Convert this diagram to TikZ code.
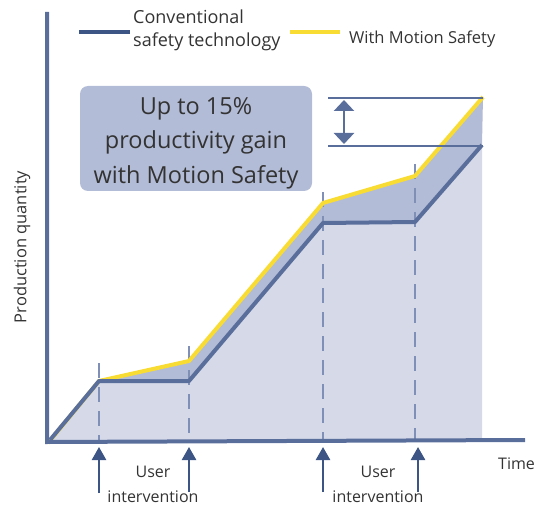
\documentclass[tikz,border=0pt]{standalone}
\usepackage{fontspec}
\setmainfont{Open Sans}
\usetikzlibrary{arrows.meta}
\definecolor{axisblue}{HTML}{5A6E9C}
\definecolor{darkblue}{HTML}{3D5584}
\definecolor{lightfill}{HTML}{D5D9E8}
\definecolor{darkfill}{HTML}{B3BCD6}
\definecolor{myyellow}{HTML}{F8DC34}
\definecolor{dashblue}{HTML}{7F8FB5}
\definecolor{txt}{HTML}{333333}
\tikzset{
  curve/.style={line width=4pt, line join=round},
  axisline/.style={line width=4pt, axisblue},
  guide/.style={line width=1.5pt, dashblue, dash pattern=on 15pt off 9pt},
  userarrow/.style={line width=2.5pt, darkblue, -{Triangle[length=13pt,width=14pt]}},
  lbl/.style={text=txt, font=\fontsize{16}{25}\selectfont, inner sep=0pt},
  leglbl/.style={text=txt, font=\fontsize{18}{23}\selectfont, inner sep=0pt},
}
\begin{document}
\begin{tikzpicture}[x=1pt,y=-1pt]
\useasboundingbox (0,0) rectangle (546,505);
% coordinates
\coordinate (o) at (48,440);
\coordinate (b1) at (99,381);
\coordinate (b2) at (189,381);
\coordinate (b3) at (323,223);
\coordinate (b4) at (415,222);
\coordinate (b5) at (482,145);
\coordinate (y2) at (189,361);
\coordinate (y3) at (323,203);
\coordinate (y4) at (415,176);
\coordinate (y5) at (483,97);
\coordinate (f5) at (482,440);
% fills
\fill[lightfill] (o) -- (b1) -- (b2) -- (b3) -- (b4) -- (b5) -- (f5) -- cycle;
\fill[darkfill] (b1) -- (y2) -- (y3) -- (y4) -- (y5) -- (b5) -- (b4) -- (b3) -- (b2) -- cycle;
% guides
\coordinate (g1t) at (99,363); \coordinate (g1b) at (99,440);
\coordinate (g2t) at (189,346); \coordinate (g2b) at (189,440);
\coordinate (g3t) at (323,192); \coordinate (g3b) at (323,440);
\coordinate (g4t) at (415,164); \coordinate (g4b) at (415,440);
\draw[guide] (g1t) -- (g1b);
\draw[guide] (g2t) -- (g2b);
\draw[guide] (g3t) -- (g3b);
\draw[guide] (g4t) -- (g4b);
% curves
\draw[curve, myyellow] (48,443) -- (b1) -- (y2) -- (y3) -- (y4) -- (y5);
\draw[curve, axisblue] (50,440) -- (b1) -- (b2) -- (b3) -- (b4) -- (b5);
% axes
\coordinate (ytop) at (47,12);
\coordinate (xend) at (525,440);
\draw[axisline] (ytop) -- (47,442) -- (xend);
% measure
\coordinate (m1a) at (328,98); \coordinate (m1b) at (483,98);
\coordinate (m2a) at (328,146); \coordinate (m2b) at (483,146);
\draw[line width=2pt, axisblue] (m1a) -- (m1b);
\draw[line width=2pt, axisblue] (m2a) -- (m2b);
\coordinate (ma) at (344,100); \coordinate (mb) at (344,144);
\draw[line width=2.5pt, axisblue, {Triangle[length=11pt,width=20pt]}-{Triangle[length=11pt,width=20pt]}] (ma) -- (mb);
% box
\fill[darkfill, rounded corners=8pt] (80,86) rectangle (312,191);
\node[inner sep=0pt, text=txt, font=\fontsize{23.5}{34.5}\selectfont, align=center] (box) at (196,143)
  {Up to 15\%\\productivity gain\\with Motion Safety};
% legend
\coordinate (l1a) at (79,32); \coordinate (l1b) at (130,32);
\draw[line width=4pt, darkblue] (l1a) -- (l1b);
\node[leglbl, anchor=base west] (leg1a) at (133,24) {Conventional};
\node[leglbl, anchor=base west] (leg1b) at (133,47) {safety technology};
\coordinate (l2a) at (290,32); \coordinate (l2b) at (340,32);
\draw[line width=4pt, myyellow] (l2a) -- (l2b);
\node[lbl, font=\fontsize{16.5}{25}\selectfont, anchor=base west] (leg2) at (349,44) {With Motion Safety};
% axis labels
\node[lbl, font=\fontsize{16.5}{25}\selectfont, rotate=90] (ylab) at (22,247) {Production quantity};
\node[lbl, anchor=base west] (xlab) at (498,469) {Time};
% user arrows
\coordinate (a1s) at (99,493); \coordinate (a1e) at (99,447);
\coordinate (a2s) at (189,492); \coordinate (a2e) at (189,447);
\coordinate (a3s) at (323,492); \coordinate (a3e) at (323,447);
\coordinate (a4s) at (418,492); \coordinate (a4e) at (418,447);
\draw[userarrow] (a1s) -- (a1e);
\draw[userarrow] (a2s) -- (a2e);
\draw[userarrow] (a3s) -- (a3e);
\draw[userarrow] (a4s) -- (a4e);
\node[lbl, anchor=base] (u1a) at (153,477) {User};
\node[lbl, anchor=base] (u1b) at (153,502) {intervention};
\node[lbl, anchor=base] (u2a) at (378,477) {User};
\node[lbl, anchor=base] (u2b) at (378,502) {intervention};
\end{tikzpicture}
\end{document}
